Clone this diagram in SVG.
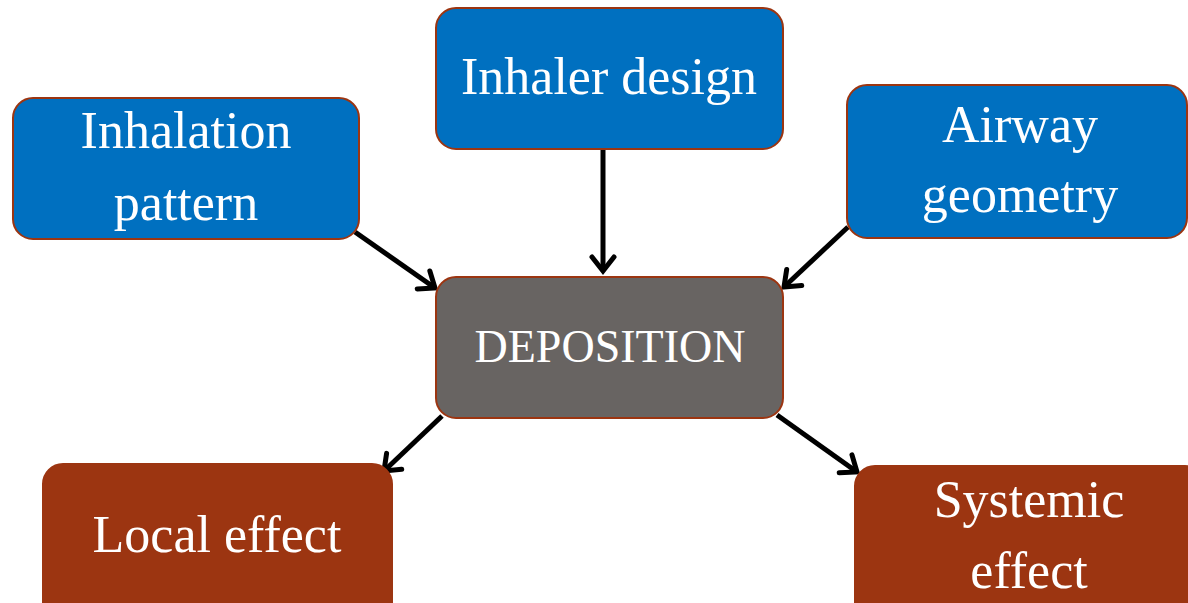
<svg xmlns="http://www.w3.org/2000/svg" width="1188" height="603" viewBox="0 0 1188 603">
  <style>
    .box { stroke: #9c3511; stroke-width: 2; }
    .blue { fill: #0070c0; }
    .gray { fill: #686462; }
    .brown { fill: #9c3511; }
    .label { fill: #ffffff; font-family: "Liberation Serif", "DejaVu Serif", serif; font-size: 52px; text-anchor: middle; }
    .edge { stroke: #000000; stroke-width: 5; fill: none; marker-end: url(#arrow); }
  </style>
  <defs>
    <marker id="arrow" markerUnits="userSpaceOnUse" viewBox="-4 -16 28 32" markerWidth="28" markerHeight="32" refX="17" refY="0" orient="auto">
      <path d="M3,-11 L17,0 L3,11" fill="none" stroke="#000000" stroke-width="5" stroke-linecap="round" stroke-linejoin="miter"/>
    </marker>
  </defs>
  <rect width="1188" height="603" fill="#ffffff"/>

  <g id="connectors">
    <line class="edge" x1="355" y1="232" x2="435" y2="288"/>
    <line class="edge" x1="603" y1="150" x2="603" y2="271"/>
    <line class="edge" x1="848" y1="227" x2="784" y2="287"/>
    <line class="edge" x1="442" y1="416" x2="384" y2="471"/>
    <line class="edge" x1="777" y1="415" x2="857" y2="472"/>
  </g>

  <g id="inhalation-pattern">
    <rect class="box blue" x="13" y="98" width="346" height="141" rx="20"/>
    <text class="label" x="186" y="148">Inhalation</text>
    <text class="label" x="186" y="220">pattern</text>
  </g>

  <g id="inhaler-design">
    <rect class="box blue" x="436" y="8" width="347" height="141" rx="20"/>
    <text class="label" x="609" y="94">Inhaler design</text>
  </g>

  <g id="airway-geometry">
    <rect class="box blue" x="847" y="85" width="340" height="153" rx="20"/>
    <text class="label" x="1020" y="142">Airway</text>
    <text class="label" x="1020" y="212">geometry</text>
  </g>

  <g id="deposition">
    <rect class="box gray" x="436" y="277" width="347" height="141" rx="20"/>
    <text class="label" x="610" y="362" style="font-size:46px">DEPOSITION</text>
  </g>

  <g id="local-effect">
    <rect class="box brown" x="43" y="464" width="349" height="160" rx="20"/>
    <text class="label" x="217" y="552">Local effect</text>
  </g>

  <g id="systemic-effect">
    <rect class="box brown" x="855" y="466" width="350" height="160" rx="20"/>
    <text class="label" x="1029" y="517">Systemic</text>
    <text class="label" x="1029" y="588">effect</text>
  </g>
</svg>
